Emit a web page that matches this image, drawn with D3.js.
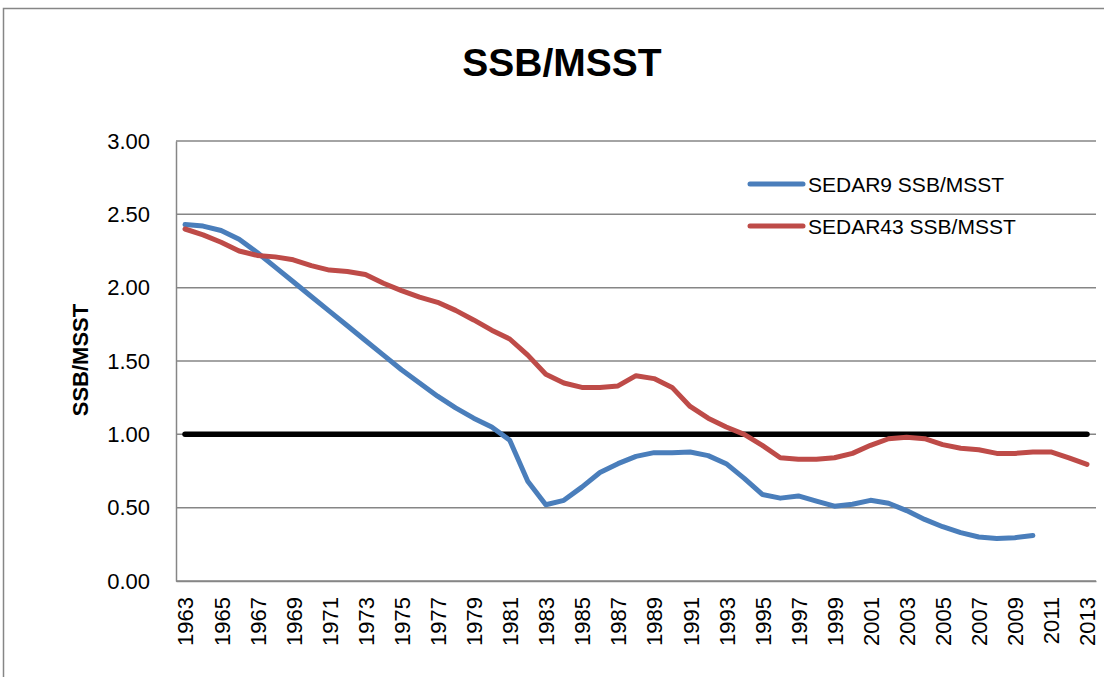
<!DOCTYPE html>
<html>
<head>
<meta charset="UTF-8">
<title>SSB/MSST</title>
<style>
  body { margin: 0; background: #fff; }
  text { font-family: 'Liberation Sans', Arial, sans-serif; fill: #000; }
</style>
</head>
<body>
<svg id="chart" width="1104" height="677"></svg>
<script src="https://d3js.org/d3.v7.min.js"></script>
<script>

// data
const years = d3.range(1963, 2014).map(String);
const sedar9 = [2.43, 2.42, 2.39, 2.33, 2.24, 2.14, 2.04, 1.94, 1.84, 1.74,
                1.64, 1.54, 1.44, 1.35, 1.26, 1.18, 1.11, 1.05, 0.96, 0.68,
                0.52, 0.55, 0.64, 0.74, 0.80, 0.85, 0.875, 0.875, 0.88, 0.855,
                0.80, 0.70, 0.59, 0.565, 0.58, 0.545, 0.51, 0.523, 0.55, 0.53,
                0.48, 0.42, 0.37, 0.33, 0.30, 0.29, 0.295, 0.31];
const sedar43 = [2.40, 2.36, 2.31, 2.25, 2.22, 2.21, 2.19, 2.15, 2.12, 2.11,
                 2.09, 2.03, 1.98, 1.935, 1.90, 1.845, 1.78, 1.71, 1.65, 1.54,
                 1.41, 1.35, 1.32, 1.32, 1.33, 1.40, 1.38, 1.32, 1.19, 1.11,
                 1.05, 1.00, 0.925, 0.84, 0.83, 0.83, 0.84, 0.87, 0.925, 0.97,
                 0.98, 0.97, 0.93, 0.905, 0.895, 0.87, 0.87, 0.88, 0.88, 0.84,
                 0.795];
const refValue = 1.0;
const yTicks = [0, 0.5, 1, 1.5, 2, 2.5, 3];
const xLabels = years.filter((d, i) => i % 2 === 0);
const seriesNames = ["SEDAR9 SSB/MSST", "SEDAR43 SSB/MSST"];

const svg = d3.select("#chart");

// outer chart border
svg.append("rect")
    .attr("x", 3.5).attr("y", 8.5)
    .attr("width", 1110).attr("height", 680)
    .attr("fill", "none")
    .attr("stroke", "#868686")
    .attr("stroke-width", 1.5);

let x = d3.scalePoint().domain(years).range([176, 1096]).padding(0.5);
let y = d3.scaleLinear().domain([0, 3]).range([581, 141]);

// gridlines
svg.append("g")
    .selectAll("line")
    .data(yTicks)
    .enter()
    .append("line")
    .attr("x1", 176).attr("x2", 1096)
    .attr("y1", d => y(d)).attr("y2", d => y(d))
    .attr("stroke", "#868686")
    .attr("stroke-width", 1.5);

// y axis
let yAxis = d3.axisLeft(y).tickValues(yTicks).tickFormat(d3.format(".2f")).tickSize(0).tickPadding(26);
let gy = svg.append("g").attr("transform", "translate(176,0)").call(yAxis);
gy.select(".domain").attr("stroke", "#868686").attr("stroke-width", 1.5);
gy.selectAll("text").style("font-size", "22px").style("font-family", "'Liberation Sans', Arial, sans-serif");

// x axis
let xAxis = d3.axisBottom(x).tickValues(xLabels).tickSize(0).tickPadding(0);
let gx = svg.append("g").attr("transform", "translate(0,581)").call(xAxis);
gx.select(".domain").attr("stroke", "#868686").attr("stroke-width", 1.5);
gx.selectAll("text")
    .style("font-size", "22px")
    .style("font-family", "'Liberation Sans', Arial, sans-serif")
    .attr("text-anchor", "end")
    .attr("transform", "rotate(-90)")
    .attr("x", -16)
    .attr("y", 0)
    .attr("dy", "0.36em");

// reference line at 1.0
svg.append("line")
    .attr("x1", x(years[0])).attr("x2", x(years[years.length - 1]))
    .attr("y1", y(refValue)).attr("y2", y(refValue))
    .attr("stroke", "#000")
    .attr("stroke-width", 5.5)
    .attr("stroke-linecap", "round");

let line = d3.line()
    .x((d, i) => x(years[i]))
    .y(d => y(d));

const colors = ["#4A7EBB", "#BE4B48"];

[sedar9, sedar43].forEach(function (s, k) {
    svg.append("path")
        .datum(s)
        .attr("d", line)
        .attr("fill", "none")
        .attr("stroke", colors[k])
        .attr("stroke-width", 5)
        .attr("stroke-linejoin", "round")
        .attr("stroke-linecap", "round");
});

// legend
let legend = svg.append("g");
seriesNames.forEach(function (name, k) {
    let ly = 184 + k * 42;
    legend.append("line")
        .attr("x1", 750).attr("x2", 803)
        .attr("y1", ly).attr("y2", ly)
        .attr("stroke", colors[k])
        .attr("stroke-width", 5)
        .attr("stroke-linecap", "round");
    legend.append("text")
        .attr("x", 808).attr("y", ly)
        .attr("dy", "0.36em")
        .style("font-size", "21px")
        .text(name);
});

// title
svg.append("text")
    .attr("x", 562).attr("y", 76)
    .attr("text-anchor", "middle")
    .style("font-size", "39px")
    .style("font-weight", "bold")
    .text("SSB/MSST");

// y axis title
svg.append("text")
    .attr("transform", "translate(88,360) rotate(-90)")
    .attr("text-anchor", "middle")
    .style("font-size", "22px")
    .style("font-weight", "bold")
    .text("SSB/MSST");

</script>
</body>
</html>
